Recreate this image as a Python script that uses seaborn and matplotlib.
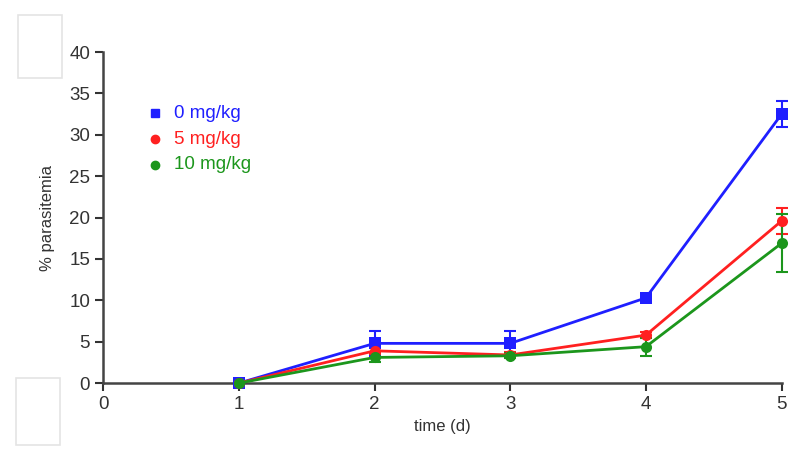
import pandas as pd
import matplotlib.pyplot as plt
import matplotlib.patches as mpatches
import seaborn as sns

days = [1, 2, 3, 4, 5]
doses = ["0 mg/kg", "5 mg/kg", "10 mg/kg"]
mean_0 = [0.0, 4.8, 4.8, 10.3, 32.5]
err_0 = [0.2, 1.5, 1.5, 0.4, 1.6]
mean_5 = [0.0, 3.9, 3.4, 5.8, 19.6]
err_5 = [0.2, 0.4, 0.3, 0.4, 1.6]
mean_10 = [0.0, 3.1, 3.3, 4.4, 16.9]
err_10 = [0.2, 0.6, 0.3, 1.1, 3.5]

colors = ["#1f1fff", "#ff2020", "#1c961c"]
markers = ["s", "o", "o"]

df = pd.DataFrame({
    "day": days * 3,
    "dose": [d for d in doses for _ in days],
    "value": mean_0 + mean_5 + mean_10,
    "err": err_0 + err_5 + err_10,
})

sns.set_style("ticks")
plt.rcParams["font.family"] = ["Liberation Sans", "DejaVu Sans"]

fig = plt.figure(figsize=(8, 4.61), dpi=100)
ax = fig.add_axes([0.129, 0.169, 0.848, 0.718])

for dose, c, m in zip(doses, colors, markers):
    sub = df[df["dose"] == dose]
    ax.errorbar(sub["day"], sub["value"], yerr=sub["err"], fmt="none",
                ecolor=c, elinewidth=1.5, capsize=4, capthick=1.5, zorder=2, clip_on=False)

sns.lineplot(data=df, x="day", y="value", hue="dose", style="dose",
             palette=dict(zip(doses, colors)), markers=dict(zip(doses, markers)),
             dashes=False, markersize=8, markeredgewidth=0, linewidth=2,
             legend=False, ax=ax, zorder=3, clip_on=False)

ax.set_xlim(0, 5)
ax.set_ylim(0, 40)
ax.set_xticks(range(0, 6))
ax.set_yticks(range(0, 41, 5))
ax.set_xlabel("time (d)", fontsize=12, color="#333333", labelpad=4)
ax.set_ylabel("% parasitemia", fontsize=12, color="#333333", labelpad=10)
ax.tick_params(labelsize=13.5, colors="#333333", length=6, width=1.5)
for s in ["left", "bottom"]:
    ax.spines[s].set_linewidth(1.8)
    ax.spines[s].set_color("#444444")
sns.despine(ax=ax)

# legend
for i, (dose, c, m) in enumerate(zip(doses, colors, markers)):
    yy = 0.815 - i * 0.078
    ax.plot([0.077], [yy], marker=m, color=c, markersize=6, transform=ax.transAxes,
            linestyle="none", clip_on=False)
    ax.text(0.104, yy, dose, color=c, fontsize=13.5, va="center", transform=ax.transAxes)

# faint boxes in the left margin
for (x0, y0, w, h) in [(0.023, 0.83, 0.055, 0.137), (0.02, 0.035, 0.055, 0.145)]:
    fig.patches.append(mpatches.Rectangle((x0, y0), w, h, transform=fig.transFigure,
                                          facecolor="white", edgecolor="#e4e4e4", linewidth=1.2))

fig.savefig("out.png", dpi=100)
